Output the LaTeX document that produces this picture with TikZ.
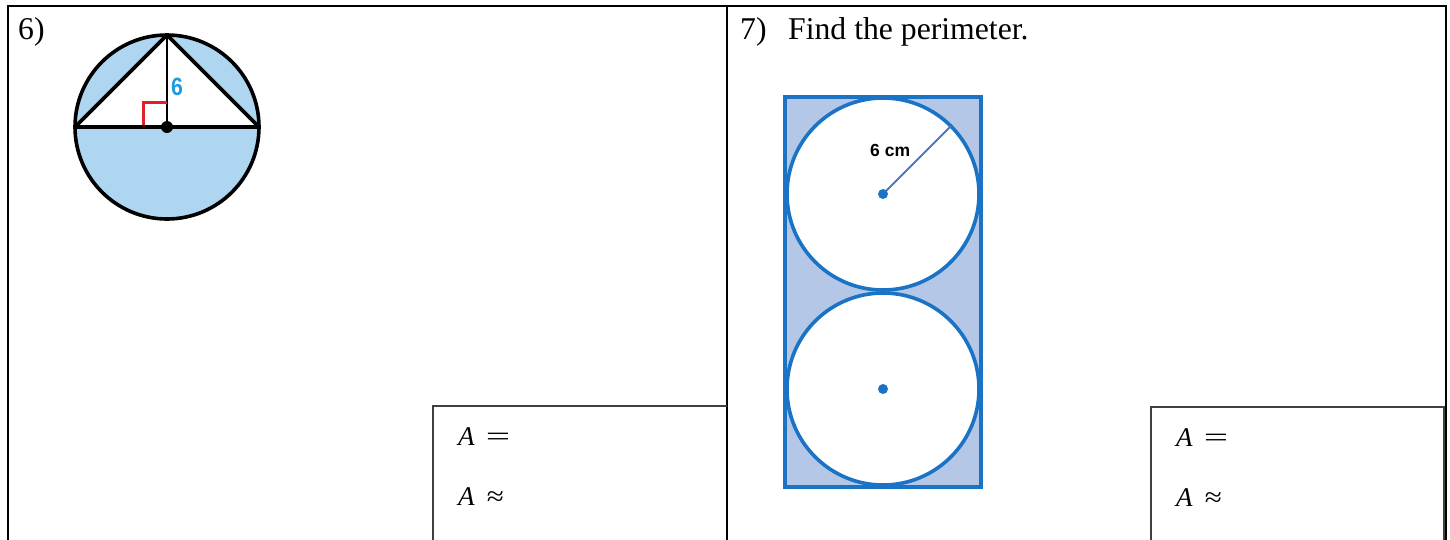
\documentclass[tikz,border=0pt]{standalone}
\usepackage{fontspec}
\setmainfont{Liberation Serif}
\newfontfamily\labelsans{Liberation Sans}
\begin{document}
\begin{tikzpicture}[x=1pt,y=-1pt,
  qtext/.style={anchor=base west,inner sep=0pt,font=\fontsize{31.7}{38}\selectfont},
  anstext/.style={anchor=base west,inner sep=0pt,font=\fontsize{27}{32}\selectfont},
  tableline/.style={line width=2pt,black},
  ansbox/.style={line width=1.6pt,draw={rgb,255:red,64;green,64;blue,64}},
  figline/.style={line width=3.6pt,black,line join=round},
  bluefig/.style={line width=3.6pt,draw={rgb,255:red,26;green,115;blue,196}}]
\useasboundingbox (0,0) rectangle (1450,539);
\definecolor{cfill}{HTML}{AED6F1}
\definecolor{rfill}{HTML}{B4C7E7}
\definecolor{rblue}{HTML}{1A73C4}
\definecolor{radblue}{HTML}{4A78C8}
\definecolor{sixblue}{HTML}{1E9BDB}
\definecolor{markred}{HTML}{E51E2B}
% table
\coordinate (tl) at (8,6); \coordinate (tr) at (1446,6);
\coordinate (bl) at (8,545); \coordinate (br) at (1446,545);
\coordinate (tm) at (727,6); \coordinate (bm) at (727,545);
\draw[tableline] (bl) -- (tl) -- (tr) -- (br);
\draw[tableline] (tm) -- (bm);
% question labels
\node[qtext] (q6) at (18,39) {6)};
\node[qtext] (q7) at (740,39) {7)};
\node[qtext] (q7t) at (788,39) {Find the perimeter.};
% figure 6
\coordinate (O) at (167,127);
\coordinate (T) at (167,35);
\coordinate (L) at (75,127);
\coordinate (R) at (259,127);
\coordinate (m1) at (143,127);
\coordinate (m2) at (143,102.5);
\coordinate (m3) at (167,102.5);
\fill[cfill] (O) circle (92);
\fill[white] (L) -- (T) -- (R) -- cycle;
\draw[line width=2pt] (T) -- (O);
\draw[markred,line width=3pt] (m1) -- (m2) -- (m3);
\draw[figline] (O) circle (92);
\draw[figline] (L) -- (T) -- (R) -- cycle;
\fill (O) circle (6);
\node[anchor=base west,inner sep=0pt,text=sixblue,font=\labelsans\bfseries\fontsize{25}{28}\selectfont,xscale=0.85] (h6) at (171,95) {6};
% figure 7
\coordinate (r1) at (785,97);
\coordinate (r2) at (981,487);
\coordinate (c1) at (883,194);
\coordinate (c2) at (883,389);
\coordinate (rad) at (951,126);
\fill[rfill] (r1) rectangle (r2);
\filldraw[fill=white,bluefig] (c1) circle (96);
\filldraw[fill=white,bluefig] (c2) circle (96);
\draw[bluefig] (r1) rectangle (r2);
\draw[radblue,line width=1.8pt] (c1) -- (rad);
\fill[rblue] (c1) circle (5);
\fill[rblue] (c2) circle (5);
\node[anchor=base west,inner sep=0pt,font=\labelsans\bfseries\fontsize{17.5}{20}\selectfont] (cm) at (870,156) {6 cm};
% answer boxes
\coordinate (a1) at (433,406); \coordinate (a1r) at (727,406);
\coordinate (a1b) at (433,545);
\draw[ansbox] (a1b) -- (a1) -- (a1r);
\node[anstext] (eq1) at (458,445) {\textit{A}\hspace{11pt}\scalebox{1.6}[1]{=}};
\node[anstext] (ap1) at (458,505) {\textit{A}\hspace{12pt}\scalebox{1.15}[1]{≈}};
\coordinate (a2) at (1151,407); \coordinate (a2r) at (1444,407);
\coordinate (a2b) at (1151,545); \coordinate (a2rb) at (1444,545);
\draw[ansbox] (a2b) -- (a2) -- (a2r) -- (a2rb);
\node[anstext] (eq2) at (1176,446) {\textit{A}\hspace{11pt}\scalebox{1.6}[1]{=}};
\node[anstext] (ap2) at (1176,506) {\textit{A}\hspace{12pt}\scalebox{1.15}[1]{≈}};
\end{tikzpicture}
\end{document}
